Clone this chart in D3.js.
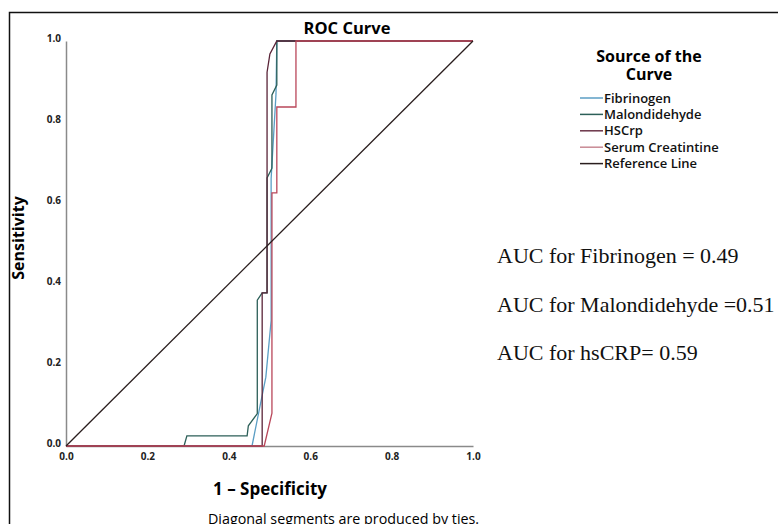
<!DOCTYPE html>
<html>
<head>
<meta charset="utf-8">
<script src="https://cdn.jsdelivr.net/npm/d3@7"></script>
<style>
  body { margin: 0; background: #fff; }
  svg { display: block; font-family: "Open Sans", "Noto Sans", sans-serif; }
</style>
</head>
<body>
<svg id="chart" width="778" height="524"></svg>
<script>
// curve points: [1 - specificity, sensitivity]
var fibrinogen = [[0,0],[0.457,0],[0.491,0.17],[0.504,0.31],[0.504,0.66],[0.516,0.87],[0.518,1],[1,1]];
var malondidehyde = [[0,0],[0.290,0],[0.297,0.025],[0.445,0.025],[0.448,0.05],[0.470,0.08],[0.470,0.36],
	[0.482,0.378],[0.494,0.378],[0.494,0.662],[0.506,0.686],[0.506,0.867],[0.518,0.891],[0.518,1],[1,1]];
var hscrp = [[0,0],[0.482,0],[0.482,0.378],[0.494,0.378],[0.494,0.923],[0.501,0.968],[0.518,1],[1,1]];
var serumCreatinine = [[0,0],[0.487,0],[0.506,0.081],[0.506,0.625],[0.518,0.625],[0.518,0.837],
	[0.565,0.837],[0.565,1],[1,1]];
var referenceLine = [[0,0],[1,1]];

var seriesNames = ["Fibrinogen", "Malondidehyde", "HSCrp", "Serum Creatintine", "Reference Line"];
var seriesColors = ["#5b9ec4", "#2c5f58", "#5a2438", "#b9475a", "#2a1e1e"];
var legendColors = ["#5b9ec4", "#2c5f58", "#6b3448", "#c98a94", "#2a1e1e"];
var tickValues = [0, 0.2, 0.4, 0.6, 0.8, 1.0];
var aucLines = ["AUC for Fibrinogen = 0.49", "AUC for Malondidehyde =0.51", "AUC for hsCRP= 0.59"];

var svg = d3.select("#chart");

// outer frame (runs off the right and bottom of the picture)
svg.append("rect")
	.attr("x", 9.5).attr("y", 12.5)
	.attr("width", 800).attr("height", 600)
	.attr("fill", "none")
	.attr("stroke", "#111")
	.attr("stroke-width", 1.5);

var x = d3.scaleLinear().domain([0, 1]).range([66, 473]);
var y = d3.scaleLinear().domain([0, 1]).range([446, 41]);

// axes
var xAxis = svg.append("g")
	.attr("transform", "translate(0,446)")
	.call(d3.axisBottom(x).tickValues(tickValues).tickFormat(d3.format(".1f")).tickSize(0).tickPadding(5));
var yAxis = svg.append("g")
	.attr("transform", "translate(66,0)")
	.call(d3.axisLeft(y).tickValues(tickValues).tickFormat(d3.format(".1f")).tickSize(0).tickPadding(5));

[xAxis, yAxis].forEach(function(a) {
	a.select(".domain").attr("stroke", "#8a8a8a").attr("stroke-width", 1.5);
	a.selectAll("text")
		.style("font-family", "'Open Sans', sans-serif")
		.style("font-size", "10px")
		.style("font-weight", "bold")
		.attr("fill", "#222");
});
xAxis.selectAll("text").attr("dy", "0.9em");
yAxis.selectAll("text").attr("dy", "0.05em");

var line = d3.line()
	.x(function(d) { return x(d[0]); })
	.y(function(d) { return y(d[1]); });

var allSeries = [fibrinogen, malondidehyde, hscrp, serumCreatinine, referenceLine];

svg.append("g").selectAll("path")
	.data(allSeries)
	.join("path")
		.attr("d", line)
		.attr("fill", "none")
		.attr("stroke", function(d, i) { return seriesColors[i]; })
		.attr("stroke-width", 1.3);

// titles
svg.append("text")
	.attr("x", 347).attr("y", 34)
	.attr("text-anchor", "middle")
	.attr("font-size", 16.5).attr("font-weight", "bold")
	.text("ROC Curve");

svg.append("text")
	.attr("transform", "translate(24,238) rotate(-90)")
	.attr("text-anchor", "middle")
	.attr("font-size", 16).attr("font-weight", "bold")
	.text("Sensitivity");

svg.append("text")
	.attr("x", 270).attr("y", 495)
	.attr("text-anchor", "middle")
	.attr("font-size", 17).attr("font-weight", "bold")
	.text("1 \u2013 Specificity");

svg.append("text")
	.attr("x", 208).attr("y", 524)
	.attr("font-size", 14.3)
	.text("Diagonal segments are produced by ties.");

// legend
var legend = svg.append("g");
legend.append("text")
	.attr("x", 649).attr("y", 62)
	.attr("text-anchor", "middle")
	.attr("font-size", 16).attr("font-weight", "bold")
	.text("Source of the");
legend.append("text")
	.attr("x", 649).attr("y", 80)
	.attr("text-anchor", "middle")
	.attr("font-size", 16).attr("font-weight", "bold")
	.text("Curve");

var rows = legend.selectAll("g.row")
	.data(seriesNames)
	.join("g")
		.attr("class", "row")
		.attr("transform", function(d, i) { return "translate(580," + (98 + i * 16.4) + ")"; });
rows.append("line")
	.attr("x1", 0).attr("x2", 23)
	.attr("stroke", function(d, i) { return legendColors[i]; })
	.attr("stroke-width", 1.5);
rows.append("text")
	.attr("x", 24).attr("dy", "0.35em")
	.attr("font-size", 13).attr("font-weight", 600)
	.attr("fill", "#111")
	.text(function(d) { return d; });

// AUC annotations
svg.append("g").selectAll("text")
	.data(aucLines)
	.join("text")
		.attr("x", 497)
		.attr("y", function(d, i) { return 263 + i * 48.5; })
		.style("font-family", "'Liberation Serif', 'Times New Roman', serif")
		.style("font-size", "22px")
		.attr("fill", "#111")
		.text(function(d) { return d; });
</script>
</body>
</html>
